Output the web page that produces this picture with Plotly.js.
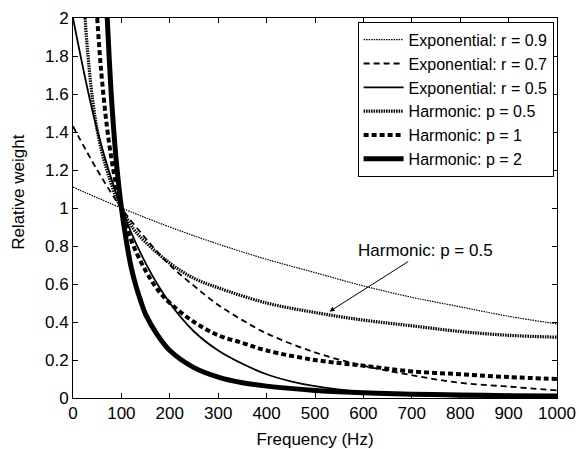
<!DOCTYPE html>
<html>
<head>
<meta charset="utf-8">
<script src="https://cdn.plot.ly/plotly-3.0.1.min.js"></script>
<style>html,body{margin:0;padding:0;background:#fff;}#chart{width:579px;height:449px;}</style>
</head>
<body>
<div id="chart"></div>
<script>
// Exponential r = 0.9
const fExp09 = [0, 100, 200, 300, 400, 500, 600, 700, 800, 900, 1000];
const wExp09 = [1.11, 1.00, 0.90, 0.81, 0.73, 0.66, 0.59, 0.53, 0.48, 0.43, 0.39];
// Exponential r = 0.7
const fExp07 = [0, 50, 100, 150, 200, 250, 300, 350, 400, 500, 600, 700, 800, 900, 1000];
const wExp07 = [1.43, 1.20, 1.00, 0.84, 0.70, 0.59, 0.49, 0.41, 0.34, 0.24, 0.17, 0.12, 0.08, 0.06, 0.04];
// Exponential r = 0.5
const fExp05 = [0, 50, 100, 150, 200, 250, 300, 350, 400, 450, 500, 600, 700, 800, 900, 1000];
const wExp05 = [2.0, 1.41, 1.0, 0.71, 0.5, 0.35, 0.25, 0.18, 0.125, 0.088, 0.0625, 0.031, 0.016, 0.008, 0.004, 0.002];
// Harmonic p = 0.5
const fHar05 = [25, 30, 40, 50, 60, 70, 80, 90, 100, 125, 150, 200, 250, 300, 400, 500, 600, 700, 800, 900, 1000];
const wHar05 = [2.0, 1.83, 1.58, 1.41, 1.29, 1.20, 1.12, 1.05, 1.0, 0.89, 0.82, 0.71, 0.63, 0.58, 0.5, 0.45, 0.41, 0.38, 0.35, 0.33, 0.32];
// Harmonic p = 1
const fHar1 = [50, 55, 60, 70, 80, 90, 100, 110, 125, 150, 175, 200, 250, 300, 350, 400, 500, 600, 700, 800, 900, 1000];
const wHar1 = [2.0, 1.82, 1.67, 1.43, 1.25, 1.11, 1.0, 0.91, 0.8, 0.67, 0.57, 0.5, 0.4, 0.33, 0.29, 0.25, 0.2, 0.17, 0.14, 0.125, 0.11, 0.1];
// Harmonic p = 2
const fHar2 = [70.7, 75, 80, 90, 100, 110, 120, 130, 140, 150, 175, 200, 250, 300, 350, 400, 500, 600, 700, 800, 900, 1000];
const wHar2 = [2.0, 1.78, 1.56, 1.23, 1.0, 0.83, 0.69, 0.59, 0.51, 0.44, 0.33, 0.25, 0.16, 0.11, 0.08, 0.0625, 0.04, 0.028, 0.02, 0.016, 0.012, 0.01];

const names = ['Exponential: r = 0.9', 'Exponential: r = 0.7', 'Exponential: r = 0.5',
               'Harmonic: p = 0.5', 'Harmonic: p = 1', 'Harmonic: p = 2'];
const xTicks = [0, 100, 200, 300, 400, 500, 600, 700, 800, 900, 1000];
const yTicks = [0, 0.2, 0.4, 0.6, 0.8, 1, 1.2, 1.4, 1.6, 1.8, 2];

const series = [
  [fExp09, wExp09, {width: 1.2, dash: '1.5px,1px'}],
  [fExp07, wExp07, {width: 1.8, dash: '6px,4px'}],
  [fExp05, wExp05, {width: 1.8, dash: 'solid'}],
  [fHar05, wHar05, {width: 3.2, dash: '1.5px,1px'}],
  [fHar1, wHar1, {width: 4, dash: '5px,3px'}],
  [fHar2, wHar2, {width: 5, dash: 'solid'}]
];

const traces = series.map((s, i) => ({
  x: s[0], y: s[1], name: names[i], mode: 'lines', type: 'scatter',
  line: Object.assign({color: '#000', shape: 'spline', smoothing: 1}, s[2])
}));

const font = {family: '"Liberation Sans", Arial, sans-serif', color: '#000'};
const fs = 17;

const layout = {
  width: 579, height: 449,
  margin: {l: 73, r: 22, t: 18, b: 51},
  paper_bgcolor: '#fff', plot_bgcolor: '#fff',
  font: Object.assign({size: fs}, font),
  showlegend: true,
  legend: {
    x: 0.993, y: 0.99, xanchor: 'right', yanchor: 'top',
    bordercolor: '#000', borderwidth: 1, bgcolor: '#fff',
    font: Object.assign({size: 16}, font),
    tracegroupgap: 0, itemwidth: 40
  },
  xaxis: {
    range: [0, 1000], tickvals: xTicks, ticktext: xTicks.map(String),
    ticks: 'inside', ticklen: 5, tickcolor: '#000', mirror: 'ticks',
    showline: true, linecolor: '#000', linewidth: 1, showgrid: false, zeroline: false,
    tickfont: Object.assign({size: fs}, font),
    title: {text: 'Frequency (Hz)', font: Object.assign({size: fs}, font), standoff: 10}
  },
  yaxis: {
    range: [0, 2], tickvals: yTicks, ticktext: yTicks.map(String),
    ticks: 'inside', ticklen: 5, tickcolor: '#000', mirror: 'ticks',
    showline: true, linecolor: '#000', linewidth: 1, showgrid: false, zeroline: false,
    tickfont: Object.assign({size: fs}, font)
  },
  annotations: [{
    x: 530, y: 0.455, xref: 'x', yref: 'y', text: 'Harmonic: p = 0.5',
    showarrow: true, ax: 96, ay: -61, arrowhead: 2, arrowsize: 1, arrowwidth: 1, arrowcolor: '#000',
    font: Object.assign({size: fs}, font)
  }, {
    x: -0.114, y: 0.542, xref: 'paper', yref: 'paper', xanchor: 'center', yanchor: 'middle',
    text: 'Relative weight', textangle: -90, showarrow: false,
    font: Object.assign({size: fs}, font)
  }]
};

Plotly.newPlot('chart', traces, layout, {displayModeBar: false, staticPlot: true});
</script>
</body>
</html>
